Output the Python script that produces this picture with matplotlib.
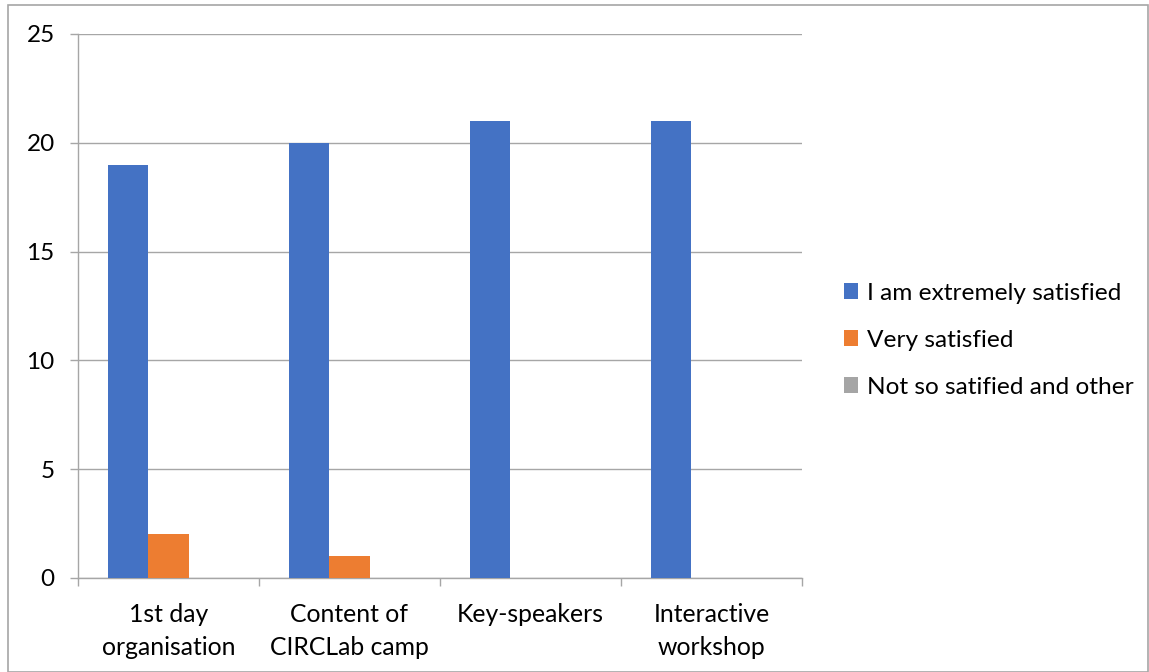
import matplotlib
matplotlib.use("Agg")
import matplotlib.pyplot as plt
import numpy as np
from matplotlib.patches import Rectangle

categories = ["1st day\norganisation", "Content of\nCIRCLab camp", "Key-speakers", "Interactive\nworkshop"]
series_names = ["I am extremely satisfied", "Very satisfied", "Not so satified and other"]
extremely = [19, 20, 21, 21]
very = [2, 1, 0, 0]
not_so = [0, 0, 0, 0]
colors = ["#4472C4", "#ED7D31", "#A5A5A5"]
yticks = [0, 5, 10, 15, 20, 25]

plt.rcParams['font.family'] = ['Lato', 'DejaVu Sans']
fig = plt.figure(figsize=(11.49, 6.72), dpi=100)
ax = fig.add_axes([78/1149, 1-578/672, (802-78)/1149, (578-34)/672])

x = np.arange(len(categories))
w = 1/(3+1.5)
for i, (vals, c, n) in enumerate(zip([extremely, very, not_so], colors, series_names)):
    ax.bar(x + (i-1)*w, vals, width=w, color=c, label=n, zorder=3)

ax.set_xlim(-0.5, len(categories)-0.5)
ax.set_ylim(0, 25)
ax.set_yticks(yticks)
ax.yaxis.grid(True, color="#A6A6A6", linewidth=1.0, zorder=0)
for s in ["top", "right"]:
    ax.spines[s].set_visible(False)
for s in ["left", "bottom"]:
    ax.spines[s].set_color("#A6A6A6")
    ax.spines[s].set_linewidth(1.0)
ax.tick_params(axis="y", length=5.8, color="#A6A6A6", width=1.0, labelsize=17.5, pad=11)
ax.set_xticks(x)
ax.set_xticklabels(categories, fontsize=17.8, linespacing=1.55)
ax.tick_params(axis="x", which="major", length=0, pad=18)
ax.set_xticks(np.arange(-0.5, len(categories)), minor=True)
ax.tick_params(axis="x", which="minor", length=5.8, color="#A6A6A6", width=1.0)

leg = ax.legend(loc="upper left", bbox_to_anchor=(834/1149, 1-273/672), bbox_transform=fig.transFigure,
                frameon=False, fontsize=17.6, handlelength=0.6, handleheight=0.6, handletextpad=0.35,
                labelspacing=1.06, borderaxespad=0)

fig.patches.append(Rectangle((8/1149, 0), 1-8/1149 - 1/1149, 1-5/672, transform=fig.transFigure,
                             fill=False, edgecolor="#A6A6A6", linewidth=1.2, zorder=10))
fig.savefig("out.png", dpi=100)
